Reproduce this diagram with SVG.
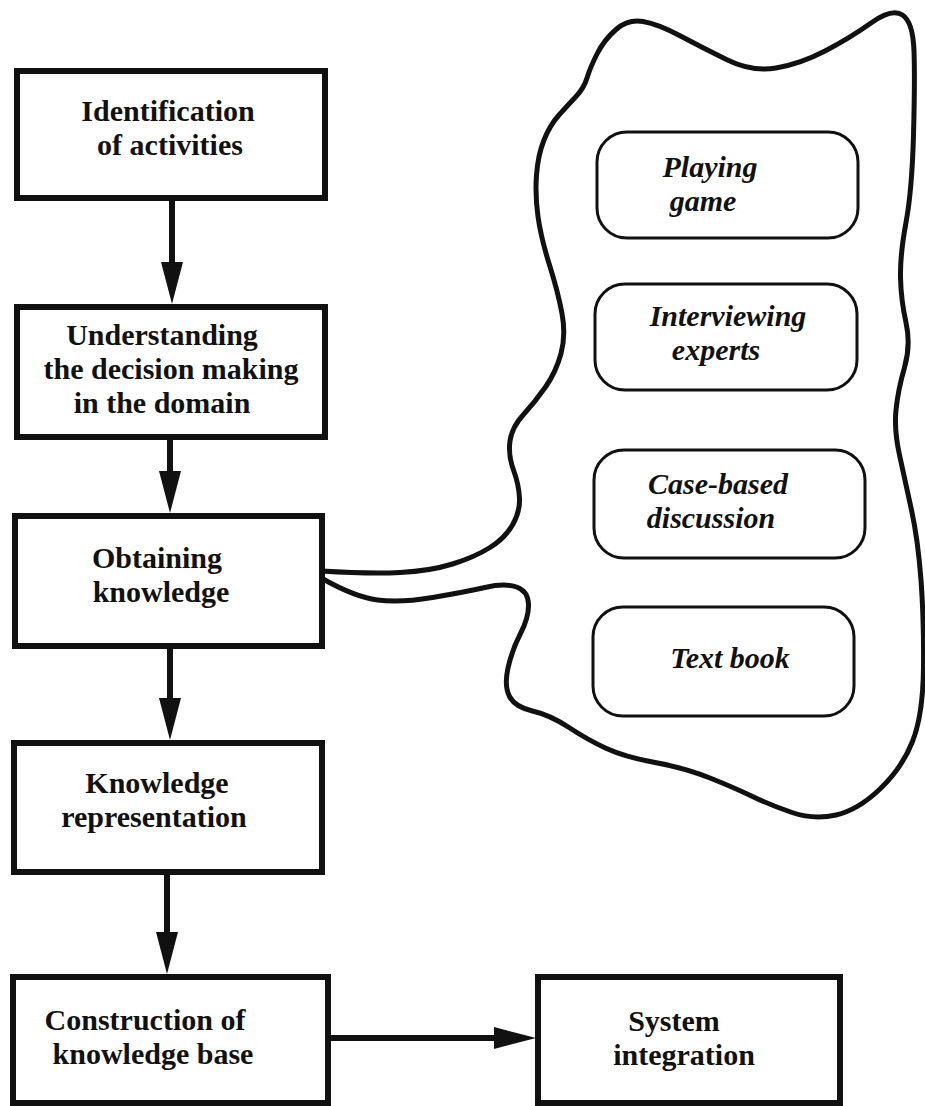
<svg xmlns="http://www.w3.org/2000/svg" width="925" height="1106" viewBox="0 0 925 1106">
<defs>
<style>
.box{fill:#fff;stroke:#111;stroke-width:6}
.rr{fill:none;stroke:#111;stroke-width:3}
.t{font-family:"Liberation Serif","Times New Roman",serif;font-weight:bold;font-size:30px;fill:#111;text-anchor:middle}
.ti{font-family:"Liberation Serif","Times New Roman",serif;font-weight:bold;font-style:italic;font-size:30px;fill:#111;text-anchor:middle}
.arr{stroke:#111;stroke-width:6;fill:none;marker-end:url(#ah)}
.cloud{fill:none;stroke:#111;stroke-width:5;stroke-linejoin:round;stroke-linecap:round}
</style>
<marker id="ah" markerUnits="userSpaceOnUse" markerWidth="42" markerHeight="22" refX="22" refY="11" orient="auto">
<path d="M0,0 L42,11 L0,22 z" fill="#111"/>
</marker>
</defs>
<rect width="925" height="1106" fill="#fff"/>

<g id="connectors">
<line class="arr" x1="172" y1="198" x2="172" y2="284"/>
<line class="arr" x1="170" y1="437" x2="170" y2="493"/>
<line class="arr" x1="170" y1="646" x2="170" y2="720"/>
<line class="arr" x1="167" y1="872" x2="167" y2="954"/>
<line class="arr" x1="328" y1="1038" x2="516" y2="1038"/>
<path id="cloud" class="cloud" d="M321,571 Q370,574 400,572.5 Q430,571 452.5,564 Q475,557 490,547.5 Q505,538 512.5,525 Q520,512 519.5,498.5 Q519,485 513.5,470 Q508,455 510,441 Q512,427 523.5,414.5 Q535,402 545.5,387 Q556,372 561,353.5 Q566,335 562,313.5 Q558,292 549.5,265 Q541,238 538,216.5 Q535,195 536.5,175 Q538,155 544,140 Q550,125 559,115 Q568,105 576,96.5 Q584,88 587,78 Q590,68 597,54 Q604,40 616,29.5 Q628,19 643,21.5 Q658,24 680.5,36 Q703,48 727.5,60 Q752,72 776,68 Q800,64 825,51 Q850,38 871,23 Q892,8 902.5,15 Q913,22 914,51 Q915,80 913.5,135 Q912,190 906,222.5 Q900,255 900.5,277.5 Q901,300 906,322.5 Q911,345 904.5,367.5 Q898,390 896,410 Q894,430 899.5,455 Q905,480 911.5,510 Q918,540 921,580 Q924,620 923.5,667.5 Q923,715 912.5,741.5 Q902,768 880,789 Q858,810 836,815 Q814,820 792,812.5 Q770,805 752.5,796.5 Q735,788 710,778 Q685,768 655,762.5 Q625,757 606.5,748.5 Q588,740 569,727.5 Q550,715 532.5,711 Q515,707 509.5,696.5 Q504,686 508,668 Q512,650 520.5,633.5 Q529,617 528.5,604 Q528,591 516.5,587 Q505,583 485,587.5 Q465,592 432.5,597.5 Q400,603 377.5,600 Q355,597 323,579"/>
</g>

<g id="n1">
<rect class="box" x="17" y="71" width="308" height="127"/>
<text class="t" x="168" y="121">Identification</text>
<text class="t" x="170" y="155">of activities</text>
</g>
<g id="n2">
<rect class="box" x="17" y="307" width="308" height="130"/>
<text class="t" x="162" y="345">Understanding</text>
<text class="t" x="171" y="379">the decision making</text>
<text class="t" x="162" y="413">in the domain</text>
</g>
<g id="n3">
<rect class="box" x="15" y="516" width="307" height="130"/>
<text class="t" x="157" y="568">Obtaining</text>
<text class="t" x="161" y="602">knowledge</text>
</g>
<g id="n4">
<rect class="box" x="14" y="743" width="308" height="129"/>
<text class="t" x="157" y="793">Knowledge</text>
<text class="t" x="154" y="827">representation</text>
</g>
<g id="n5">
<rect class="box" x="13" y="977" width="315" height="126"/>
<text class="t" x="145" y="1030">Construction of</text>
<text class="t" x="153" y="1064">knowledge base</text>
</g>
<g id="n6">
<rect class="box" x="538" y="977" width="302" height="126"/>
<text class="t" x="674" y="1031">System</text>
<text class="t" x="684" y="1065">integration</text>
</g>

<g id="m1">
<rect class="rr" x="597" y="132" width="261" height="106" rx="30"/>
<text class="ti" x="710" y="177">Playing</text>
<text class="ti" x="703" y="211">game</text>
</g>
<g id="m2">
<rect class="rr" x="595" y="284" width="262" height="106" rx="30"/>
<text class="ti" x="728" y="326">Interviewing</text>
<text class="ti" x="716" y="360">experts</text>
</g>
<g id="m3">
<rect class="rr" x="594" y="450" width="271" height="108" rx="30"/>
<text class="ti" x="718" y="494">Case-based</text>
<text class="ti" x="711" y="528">discussion</text>
</g>
<g id="m4">
<rect class="rr" x="593" y="607" width="261" height="109" rx="30"/>
<text class="ti" x="730" y="668">Text book</text>
</g>
</svg>
